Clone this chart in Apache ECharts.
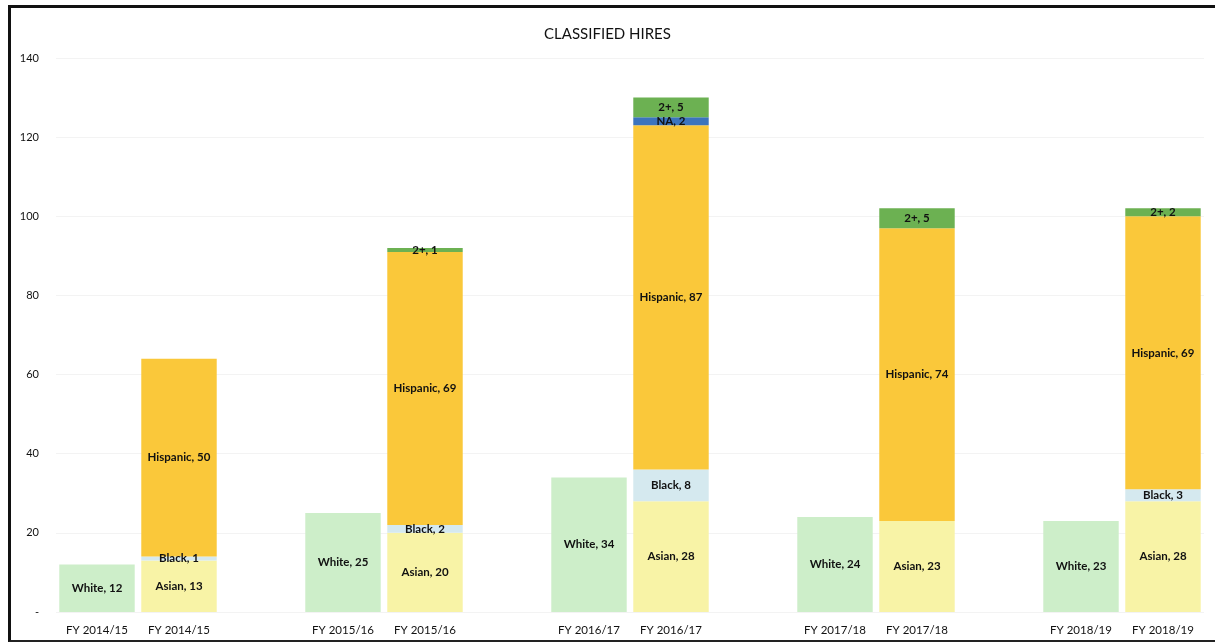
<!DOCTYPE html>
<html>
<head>
<meta charset="utf-8">
<script src="https://cdn.jsdelivr.net/npm/echarts@6/dist/echarts.min.js"></script>
<style>
  html, body { margin: 0; padding: 0; background: #fff; }
  #frame {
    position: absolute; left: 8px; top: 5px; width: 1207px; height: 637px;
    border-left: 3px solid #111; border-top: 3px solid #111; border-bottom: 2px solid #222;
    box-sizing: border-box; pointer-events: none; z-index: 2;
  }
  #chart { position: absolute; left: 0; top: 0; width: 1215px; height: 644px; }
</style>
</head>
<body>
<div id="chart"></div>
<div id="frame"></div>
<script>
// Fiscal-year slots: each year has a White bar and a stacked bar, with an empty slot between years
const categories = [
  'FY 2014/15', 'FY 2014/15', '',
  'FY 2015/16', 'FY 2015/16', '',
  'FY 2016/17', 'FY 2016/17', '',
  'FY 2017/18', 'FY 2017/18', '',
  'FY 2018/19', 'FY 2018/19'
];

const white    = [12, null, null, 25, null, null, 34, null, null, 24, null, null, 23, null];
const asian    = [null, 13, null, null, 20, null, null, 28, null, null, 23, null, null, 28];
const black    = [null, 1, null, null, 2, null, null, 8, null, null, null, null, null, 3];
const hispanic = [null, 50, null, null, 69, null, null, 87, null, null, 74, null, null, 69];
const na       = [null, null, null, null, null, null, null, 2, null, null, null, null, null, null];
const twoPlus  = [null, null, null, null, 1, null, null, 5, null, null, 5, null, null, 2];

const yTicks = { min: 0, max: 140, interval: 20 };

const font = 'Lato, "Open Sans", sans-serif';

function seg(name, data, color) {
  return {
    name: name,
    type: 'bar',
    stack: 'hires',
    data: data,
    barCategoryGap: '8%',
    itemStyle: { color: color },
    label: {
      show: true,
      position: 'inside',
      formatter: function (p) { return p.value == null ? '' : p.seriesName + ', ' + p.value; },
      color: '#111',
      fontWeight: 'bold',
      fontSize: 11.5,
      fontFamily: font
    }
  };
}

const chart = echarts.init(document.getElementById('chart'), null, { renderer: 'canvas' });
chart.setOption({
  animation: false,
  backgroundColor: '#fff',
  title: {
    text: 'CLASSIFIED HIRES',
    left: 'center',
    top: 22,
    textStyle: { fontFamily: font, fontSize: 15, fontWeight: 'normal', color: '#111' }
  },
  grid: { left: 56, right: 11, top: 58, bottom: 32, containLabel: false },
  xAxis: {
    type: 'category',
    data: categories,
    axisLine: { show: false },
    axisTick: { show: false },
    axisLabel: { interval: 0, color: '#111', fontSize: 11.5, fontFamily: font, margin: 12 }
  },
  yAxis: {
    type: 'value',
    min: yTicks.min,
    max: yTicks.max,
    interval: yTicks.interval,
    axisLine: { show: false },
    axisTick: { show: false },
    splitLine: { lineStyle: { color: '#f3f3f3', width: 1 } },
    axisLabel: {
      color: '#111', fontSize: 11, fontFamily: font, margin: 17,
      formatter: function (v) { return v === 0 ? '-' : String(v); }
    }
  },
  series: [
    seg('White', white, '#cdeec9'),
    seg('Asian', asian, '#f8f3a6'),
    seg('Black', black, '#d5e9ef'),
    seg('Hispanic', hispanic, '#fac83a'),
    seg('NA', na, '#3c74bd'),
    seg('2+', twoPlus, '#6cb152')
  ]
});
</script>
</body>
</html>
